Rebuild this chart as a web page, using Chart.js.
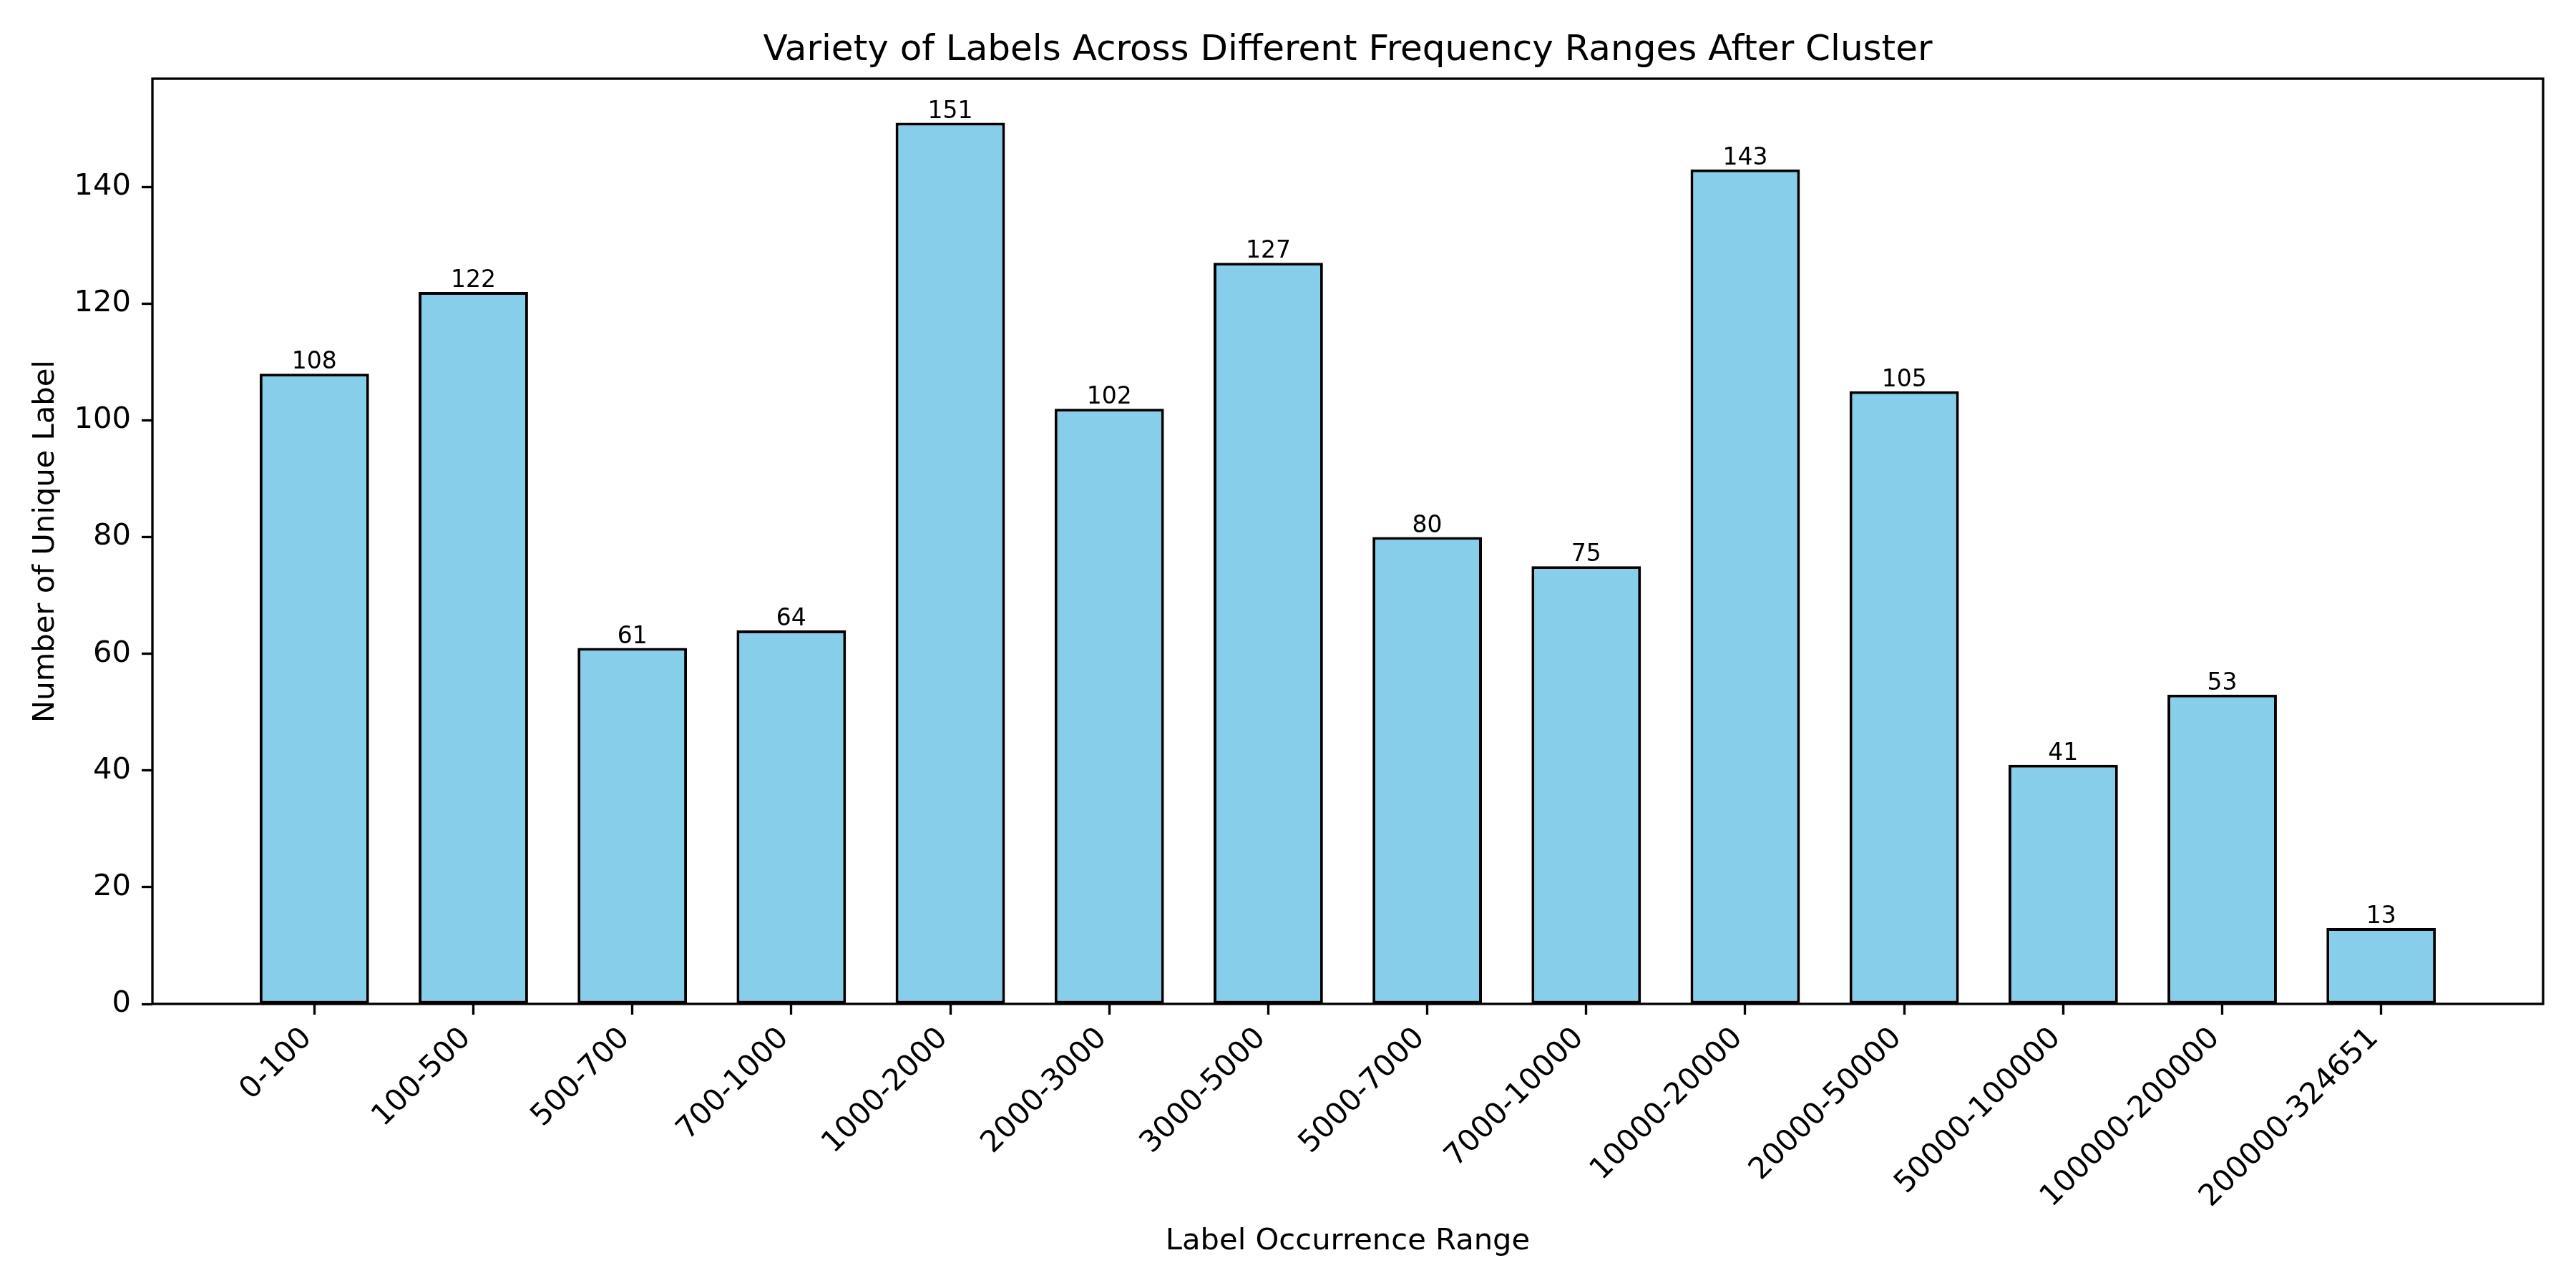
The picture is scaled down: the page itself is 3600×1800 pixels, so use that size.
<!DOCTYPE html>
<html>
<head>
<meta charset="utf-8">
<script src="https://cdn.jsdelivr.net/npm/chart.js@4"></script>
<style>
  html, body { margin: 0; padding: 0; background: #fff; }
  #wrap { width: 3600px; height: 1800px; }
</style>
</head>
<body>
<div id="wrap"><canvas id="chart" width="3600" height="1800"></canvas></div>
<script>
// x-axis categories
const ranges = [
  '0-100', '100-500', '500-700', '700-1000', '1000-2000', '2000-3000',
  '3000-5000', '5000-7000', '7000-10000', '10000-20000', '20000-50000',
  '50000-100000', '100000-200000', '200000-324651'
];
// number of unique labels per range
const uniqueCounts = [108, 122, 61, 64, 151, 102, 127, 80, 75, 143, 105, 41, 53, 13];
// y tick values
const yTicks = [0, 20, 40, 60, 80, 100, 120, 140];

const SPINE = 3.33;

// full box round the plot, like matplotlib spines
const frame = {
  id: 'frame',
  afterDatasetsDraw(chart) {
    const {ctx, chartArea: a} = chart;
    ctx.save();
    ctx.strokeStyle = '#000';
    ctx.lineWidth = SPINE;
    ctx.strokeRect(a.left, a.top, a.right - a.left, a.bottom - a.top);
    ctx.restore();
  }
};

// numbers on top of the bars
const barValues = {
  id: 'barValues',
  afterDatasetsDraw(chart) {
    const {ctx} = chart;
    const meta = chart.getDatasetMeta(0);
    ctx.save();
    ctx.font = '33px "DejaVu Sans"';
    ctx.fillStyle = '#000';
    ctx.textAlign = 'center';
    ctx.textBaseline = 'alphabetic';
    meta.data.forEach((bar, i) => {
      ctx.fillText(String(uniqueCounts[i]), bar.x, bar.y - 7);
    });
    ctx.restore();
  }
};

Chart.defaults.font.family = '"DejaVu Sans"';
Chart.defaults.color = '#000';

new Chart(document.getElementById('chart'), {
  type: 'bar',
  data: {
    datasets: [{
      data: uniqueCounts.map((v, i) => ({x: i, y: v})),
      backgroundColor: '#87CEEB',
      borderColor: '#000',
      borderWidth: 4,
      borderSkipped: false,
      barPercentage: 0.688,
      categoryPercentage: 1
    }]
  },
  options: {
    responsive: false,
    animation: false,
    devicePixelRatio: 1,
    layout: { padding: { left: 0, right: 46, top: 0, bottom: 0 } },
    plugins: {
      legend: { display: false },
      tooltip: { enabled: false },
      title: {
        display: true,
        text: 'Variety of Labels Across Different Frequency Ranges After Cluster',
        fullSize: false,
        font: { size: 50, weight: 'normal' },
        padding: { top: 41, bottom: 9 }
      }
    },
    scales: {
      x: {
        type: 'linear',
        offset: false,
        min: -1.0185,
        max: 14.0185,
        afterBuildTicks(scale) {
          scale.ticks = ranges.map((_, i) => ({value: i}));
        },
        afterFit(scale) { scale.height = 397; },
        grid: {
          display: true,
          offset: false,
          drawOnChartArea: false,
          drawTicks: true,
          tickLength: 15,
          tickWidth: SPINE,
          tickColor: '#000'
        },
        border: { display: false },
        ticks: {
          autoSkip: false,
          minRotation: 45,
          maxRotation: 45,
          padding: 9,
          labelOffset: -10,
          font: { size: 41.7 },
          callback: (value) => ranges[value]
        },
        title: {
          display: true,
          text: 'Label Occurrence Range',
          font: { size: 41.7 },
          padding: { top: 0, bottom: 40 }
        }
      },
      y: {
        min: 0,
        max: 158.55,
        afterBuildTicks(scale) {
          scale.ticks = yTicks.map(v => ({value: v}));
        },
        afterFit(scale) { scale.width = 213; },
        grid: {
          display: true,
          drawOnChartArea: false,
          drawTicks: true,
          tickLength: 15,
          tickWidth: SPINE,
          tickColor: '#000'
        },
        border: { display: false },
        ticks: {
          padding: 15,
          font: { size: 41.7 }
        },
        title: {
          display: true,
          text: 'Number of Unique Label',
          font: { size: 41.7 },
          padding: { top: 39, bottom: 0 }
        }
      }
    }
  },
  plugins: [frame, barValues]
});
</script>
</body>
</html>
